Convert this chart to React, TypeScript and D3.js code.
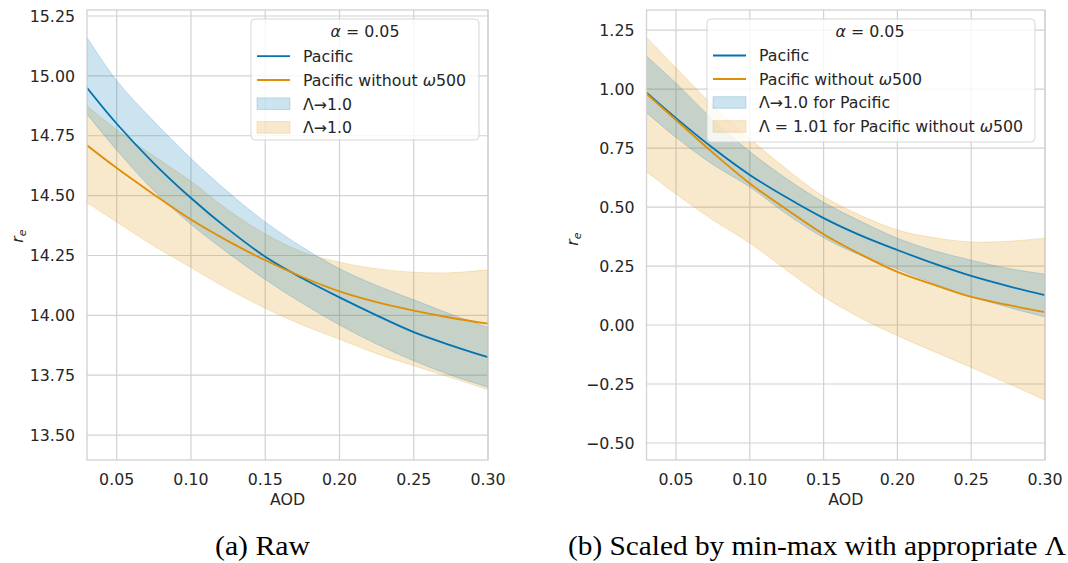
import React from "react";
import * as d3 from "d3";

// ---------- data ----------
const aod = [0.03, 0.05, 0.075, 0.1, 0.125, 0.15, 0.175, 0.2, 0.225, 0.25, 0.275, 0.3];

const rawPacific = [14.95, 14.8, 14.635, 14.49, 14.36, 14.245, 14.155, 14.075, 14.0, 13.93, 13.875, 13.825];
const rawPacificUpper = [15.16, 14.98, 14.81, 14.655, 14.515, 14.39, 14.285, 14.195, 14.125, 14.065, 14.005, 13.95];
const rawPacificLower = [14.84, 14.69, 14.52, 14.38, 14.26, 14.15, 14.05, 13.96, 13.88, 13.81, 13.75, 13.7];
const rawNoOmega = [14.71, 14.615, 14.505, 14.4, 14.31, 14.23, 14.16, 14.1, 14.055, 14.02, 13.99, 13.965];
const rawNoOmegaUpper = [14.875, 14.775, 14.665, 14.56, 14.44, 14.34, 14.265, 14.222, 14.195, 14.18, 14.178, 14.19];
const rawNoOmegaLower = [14.47, 14.39, 14.29, 14.2, 14.11, 14.03, 13.96, 13.9, 13.84, 13.79, 13.74, 13.69];

const scaledPacific = [0.985, 0.877, 0.75, 0.636, 0.54, 0.453, 0.38, 0.318, 0.26, 0.208, 0.165, 0.127];
const scaledPacificUpper = [1.14, 1.025, 0.87, 0.735, 0.62, 0.52, 0.44, 0.368, 0.315, 0.275, 0.24, 0.216];
const scaledPacificLower = [0.9, 0.795, 0.68, 0.585, 0.47, 0.37, 0.295, 0.237, 0.175, 0.12, 0.075, 0.034];
const scaledNoOmega = [0.98, 0.869, 0.73, 0.6, 0.49, 0.385, 0.3, 0.225, 0.17, 0.119, 0.085, 0.055];
const scaledNoOmegaUpper = [1.22, 1.09, 0.93, 0.79, 0.66, 0.545, 0.465, 0.403, 0.37, 0.352, 0.355, 0.368];
const scaledNoOmegaLower = [0.65, 0.555, 0.445, 0.347, 0.232, 0.12, 0.03, -0.045, -0.113, -0.18, -0.248, -0.318];

const xTicks = [0.05, 0.1, 0.15, 0.2, 0.25, 0.3];
const rawTicks = [13.5, 13.75, 14.0, 14.25, 14.5, 14.75, 15.0, 15.25];
const scaledTicks = [-0.5, -0.25, 0.0, 0.25, 0.5, 0.75, 1.0, 1.25];

const captionA = "(a) Raw";
const captionB = "(b) Scaled by min-max with appropriate Λ";

// ---------- style ----------
const BLUE = "#0173b2";
const ORANGE = "#de8f05";
const GRID = "#d2d2d2";
const TEXT = "#262626";
const SANS = "'DejaVu Sans', sans-serif";
const SERIF = "'Liberation Serif', 'DejaVu Serif', serif";
const FS = 15.8;

type Entry = { kind: "line" | "patch"; color: string; label: React.ReactNode };

type PanelProps = {
  left: number;
  right: number;
  top: number;
  bottom: number;
  yDomain: [number, number];
  yTicks: number[];
  lines: { color: string; values: number[] }[];
  bands: { color: string; lower: number[]; upper: number[] }[];
  legend: { x0: number; x1: number; y0: number; y1: number; titleX: number; rows: number[]; titleY: number; handleX: number; textX: number; entries: Entry[] };
  yLabelX: number;
  yLabelY: number;
  id: string;
};

function Panel(p: PanelProps) {
  const x = d3.scaleLinear().domain([0.03, 0.3]).range([p.left, p.right]);
  const y = d3.scaleLinear().domain(p.yDomain).range([p.bottom, p.top]);
  const fmt = d3.format(".2f");
  const line = d3
    .line<number>()
    .x((_, i) => x(aod[i]))
    .y((d) => y(d))
    .curve(d3.curveCatmullRom.alpha(0.5));
  const area = (lo: number[], hi: number[]) =>
    d3
      .area<number>()
      .x((_, i) => x(aod[i]))
      .y0((_, i) => y(lo[i]))
      .y1((_, i) => y(hi[i]))
      .curve(d3.curveCatmullRom.alpha(0.5))(lo) || "";
  const L = p.legend;
  return (
    <g>
      <defs>
        <clipPath id={p.id}>
          <rect x={p.left} y={p.top} width={p.right - p.left} height={p.bottom - p.top} />
        </clipPath>
      </defs>
      {xTicks.map((t) => (
        <line key={"gx" + t} x1={x(t)} x2={x(t)} y1={p.top} y2={p.bottom} stroke={GRID} strokeWidth={1.2} />
      ))}
      {p.yTicks.map((t) => (
        <line key={"gy" + t} x1={p.left} x2={p.right} y1={y(t)} y2={y(t)} stroke={GRID} strokeWidth={1.2} />
      ))}
      <g clipPath={`url(#${p.id})`}>
        {p.bands.map((b, i) => (
          <path key={"b" + i} d={area(b.lower, b.upper)} fill={b.color} fillOpacity={0.2} stroke={b.color} strokeOpacity={0.2} strokeWidth={1} />
        ))}
        {p.lines.map((l, i) => (
          <path key={"l" + i} d={line(l.values) || ""} fill="none" stroke={l.color} strokeWidth={1.8} />
        ))}
      </g>
      <rect x={p.left} y={p.top} width={p.right - p.left} height={p.bottom - p.top} fill="none" stroke={GRID} strokeWidth={1.3} />
      {xTicks.map((t) => (
        <text key={"tx" + t} x={x(t)} y={485} textAnchor="middle" fontFamily={SANS} fontSize={FS} fill={TEXT}>
          {fmt(t)}
        </text>
      ))}
      {p.yTicks.map((t) => (
        <text key={"ty" + t} x={p.left - 12} y={y(t) + 5.7} textAnchor="end" fontFamily={SANS} fontSize={FS} fill={TEXT}>
          {fmt(t)}
        </text>
      ))}
      <text x={(p.left + p.right) / 2} y={505} textAnchor="middle" fontFamily={SANS} fontSize={FS} fill={TEXT}>
        AOD
      </text>
      <text transform={`translate(${p.yLabelX},${p.yLabelY}) rotate(-90)`} textAnchor="middle" fontFamily={SANS} fontSize={FS} fill={TEXT}>
        <tspan fontStyle="italic">r</tspan>
        <tspan fontStyle="italic" fontSize={11} dy={3}>e</tspan>
      </text>
      <rect x={L.x0} y={L.y0} width={L.x1 - L.x0} height={L.y1 - L.y0} rx={4} fill="#ffffff" fillOpacity={0.8} stroke="#cccccc" strokeOpacity={0.8} strokeWidth={1} />
      <text x={L.titleX} y={L.titleY} textAnchor="middle" fontFamily={SANS} fontSize={FS} fill={TEXT}>
        <tspan fontStyle="italic">α</tspan>
        <tspan> = 0.05</tspan>
      </text>
      {L.entries.map((e, i) => (
        <g key={"le" + i}>
          {e.kind === "line" ? (
            <line x1={L.handleX} x2={L.handleX + 33} y1={L.rows[i]} y2={L.rows[i]} stroke={e.color} strokeWidth={1.8} />
          ) : (
            <rect x={L.handleX} y={L.rows[i] - 5.8} width={33} height={11.6} fill={e.color} fillOpacity={0.2} stroke={e.color} strokeOpacity={0.2} />
          )}
          <text x={L.textX} y={L.rows[i] + 5.9} fontFamily={SANS} fontSize={FS} fill={TEXT}>
            {e.label}
          </text>
        </g>
      ))}
    </g>
  );
}

const omega = (
  <>
    <tspan>Pacific without </tspan>
    <tspan fontStyle="italic">ω</tspan>
    <tspan>500</tspan>
  </>
);

export default function App() {
  return (
    <div>
      <style>{"body{margin:0}"}</style>
      <svg width={1068} height={563} style={{ display: "block", background: "#fff" }}>
        <Panel
          id="clipA"
          left={87}
          right={488}
          top={10}
          bottom={460}
          yDomain={[13.396, 15.275]}
          yTicks={rawTicks}
          bands={[
            { color: ORANGE, lower: rawNoOmegaLower, upper: rawNoOmegaUpper },
            { color: BLUE, lower: rawPacificLower, upper: rawPacificUpper },
          ]}
          lines={[
            { color: BLUE, values: rawPacific },
            { color: ORANGE, values: rawNoOmega },
          ]}
          legend={{
            x0: 251,
            x1: 479,
            y0: 19,
            y1: 140,
            titleX: 365,
            titleY: 37.3,
            rows: [56.2, 80, 103.7, 127.4],
            handleX: 257,
            textX: 303,
            entries: [
              { kind: "line", color: BLUE, label: "Pacific" },
              { kind: "line", color: ORANGE, label: omega },
              { kind: "patch", color: BLUE, label: "Λ→1.0" },
              { kind: "patch", color: ORANGE, label: "Λ→1.0" },
            ],
          }}
          yLabelX={23}
          yLabelY={236}
        />
        <Panel
          id="clipB"
          left={646.5}
          right={1045}
          top={10}
          bottom={460}
          yDomain={[-0.572, 1.335]}
          yTicks={scaledTicks}
          bands={[
            { color: ORANGE, lower: scaledNoOmegaLower, upper: scaledNoOmegaUpper },
            { color: BLUE, lower: scaledPacificLower, upper: scaledPacificUpper },
          ]}
          lines={[
            { color: BLUE, values: scaledPacific },
            { color: ORANGE, values: scaledNoOmega },
          ]}
          legend={{
            x0: 707,
            x1: 1035,
            y0: 19,
            y1: 142,
            titleX: 870,
            titleY: 36.7,
            rows: [55.5, 79, 102.5, 126.5],
            handleX: 713,
            textX: 759,
            entries: [
              { kind: "line", color: BLUE, label: "Pacific" },
              { kind: "line", color: ORANGE, label: omega },
              { kind: "patch", color: BLUE, label: "Λ→1.0 for Pacific" },
              {
                kind: "patch",
                color: ORANGE,
                label: (
                  <>
                    <tspan>Λ = 1.01 for Pacific without </tspan>
                    <tspan fontStyle="italic">ω</tspan>
                    <tspan>500</tspan>
                  </>
                ),
              },
            ],
          }}
          yLabelX={578}
          yLabelY={239}
        />
        <text x={215} y={555} fontFamily={SERIF} fontSize={26.5} fill="#000" textLength={95} lengthAdjust="spacingAndGlyphs">
          {captionA}
        </text>
        <text x={568} y={555} fontFamily={SERIF} fontSize={26.5} fill="#000" textLength={498} lengthAdjust="spacingAndGlyphs">
          {captionB}
        </text>
      </svg>
    </div>
  );
}
